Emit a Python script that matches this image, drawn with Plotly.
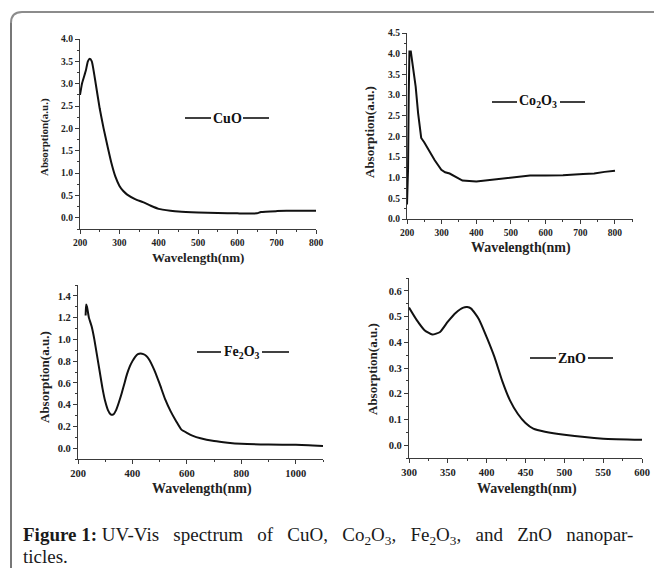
import plotly.graph_objects as go

# ---------------- data ----------------
cuo_wl = [200, 205, 210, 215, 220, 225, 230, 240, 250, 260, 270, 280, 290, 300, 310, 320, 340, 360, 380,
          400, 430, 450, 500, 550, 600, 650, 660, 700, 750, 800]
cuo_abs = [2.75, 3.0, 3.15, 3.3, 3.5, 3.56, 3.5, 3.0, 2.45, 2.0, 1.6, 1.22, 0.92, 0.72, 0.6, 0.52, 0.42,
           0.35, 0.27, 0.2, 0.16, 0.14, 0.12, 0.11, 0.1, 0.1, 0.13, 0.15, 0.16, 0.16]

co_wl = [200, 203, 205, 207, 211, 215, 225, 232, 241, 250, 265, 280, 299, 310, 323, 340, 352, 360, 400,
         450, 497, 530, 555, 600, 650, 708, 740, 770, 800]
co_abs = [0.35, 1.2, 3.0, 4.05, 4.05, 3.8, 3.2, 2.56, 1.96, 1.85, 1.64, 1.42, 1.19, 1.13, 1.1, 1.02, 0.95,
          0.93, 0.91, 0.95, 1.0, 1.02, 1.05, 1.05, 1.06, 1.09, 1.1, 1.14, 1.17]

fe_wl = [228, 230, 233, 240, 250, 260, 270, 280, 290, 300, 310, 320, 330, 340, 350, 360, 370, 380, 390,
         400, 410, 420, 430, 440, 450, 460, 480, 500, 520, 540, 560, 580, 600, 620, 650, 700, 750, 800,
         900, 1000, 1100]
fe_abs = [1.22, 1.32, 1.3, 1.2, 1.12, 1.0, 0.85, 0.7, 0.55, 0.43, 0.35, 0.31, 0.31, 0.35, 0.42, 0.5,
          0.59, 0.68, 0.75, 0.8, 0.84, 0.865, 0.87, 0.865, 0.85, 0.82, 0.72, 0.59, 0.45, 0.34, 0.25,
          0.17, 0.14, 0.115, 0.09, 0.065, 0.05, 0.04, 0.033, 0.03, 0.02]

zn_wl = [300, 310, 320, 330, 340, 350, 360, 370, 375, 380, 390, 400, 410, 420, 430, 440, 450, 460,
         475, 500, 550, 600]
zn_abs = [0.535, 0.486, 0.447, 0.43, 0.44, 0.48, 0.514, 0.535, 0.537, 0.531, 0.49, 0.42, 0.343,
          0.25, 0.174, 0.122, 0.086, 0.064, 0.052, 0.04, 0.025, 0.021]

labels = ["CuO", "Co<sub>2</sub>O<sub>3</sub>", "Fe<sub>2</sub>O<sub>3</sub>", "ZnO"]
x_title = "Wavelength(nm)"
y_title = "Absorption(a.u.)"
SP = "&nbsp;&nbsp;"
caption_1 = (f"<b>Figure 1:</b> UV-Vis{SP} spectrum{SP} of{SP} CuO,{SP} Co<sub>2</sub>O<sub>3</sub>,{SP} "
             f"Fe<sub>2</sub>O<sub>3</sub>,{SP} and{SP} ZnO{SP} nanopar-")
caption_2 = "ticles."

# ---------------- layout helpers ----------------
W, H = 654, 568
def px(x):
    return x / W
def py(y):
    return 1 - y / H

SERIF = "Liberation Serif"
AX_COLOR = "#3a3a3a"

series = [(cuo_wl, cuo_abs), (co_wl, co_abs), (fe_wl, fe_abs), (zn_wl, zn_abs)]
shapes_kind = ["spline", "linear", "spline", "spline"]
# pixel boxes: (x0, x1, ytop, ybottom)
boxes = [(80, 316, 39, 229), (407, 633, 33, 219), (78, 323, 285, 459), (409, 642, 278, 458)]
xranges = [[200, 800], [200, 852], [200, 1100], [300, 600]]
yranges = [[-0.25, 4.0], [0, 4.5], [-0.1, 1.5], [-0.05, 0.65]]
xdticks = [100, 100, 200, 50]
ydticks = [0.5, 0.5, 0.2, 0.1]
tick_sizes = [9.5, 9.5, 10.5, 10.5]
xtitle_sizes = [13, 14, 14, 14]
ytitle_sizes = [11, 13, 13, 13]
xtitle_pos = [(198, 257), (521, 248), (202, 489), (527, 489)]
ytitle_pos = [(45, 137), (369, 132), (45, 377), (372, 369)]
# label positions: (line-left x0, text centre, line-right x1, y)
lbl = [(185, 227, 269, 118), (492, 538, 585, 102), (197, 242, 289, 352), (530, 572, 613, 358)]
lbl_text_half = [(211, 243), (517, 560), (221, 262), (556, 588)]

fig = go.Figure()
layout_axes = {}
annotations = []
shapes = []

for i, ((xs, ys), (x0, x1, yt, yb)) in enumerate(zip(series, boxes)):
    n = i + 1
    xa = "xaxis" if n == 1 else f"xaxis{n}"
    ya = "yaxis" if n == 1 else f"yaxis{n}"
    line = dict(color="#111111", width=2, shape=shapes_kind[i])
    if shapes_kind[i] == "spline":
        line["smoothing"] = 0.5
    fig.add_trace(go.Scatter(x=xs, y=ys, mode="lines", line=line,
                             xaxis=f"x{'' if n == 1 else n}", yaxis=f"y{'' if n == 1 else n}",
                             showlegend=False, hoverinfo="skip"))
    common = dict(showgrid=False, zeroline=False, showline=True, linecolor=AX_COLOR, linewidth=1.3,
                  ticks="outside", ticklen=4, tickwidth=1.1, tickcolor=AX_COLOR, mirror=False,
                  automargin=False,
                  tickfont=dict(family=SERIF, size=tick_sizes[i], color="#222", weight="bold"))
    layout_axes[xa] = dict(common, domain=[px(x0), px(x1)], range=xranges[i], dtick=xdticks[i],
                           tick0=200 if i < 3 else 300,
                           anchor=f"y{'' if n == 1 else n}",
                           minor=dict(dtick=xdticks[i] / 2, ticks="outside", ticklen=2, tickcolor=AX_COLOR))
    layout_axes[ya] = dict(common, domain=[py(yb), py(yt)], range=yranges[i], dtick=ydticks[i], tick0=0,
                           tickformat=".1f", anchor=f"x{'' if n == 1 else n}",
                           minor=dict(dtick=ydticks[i] / 2, ticks="outside", ticklen=2, tickcolor=AX_COLOR))
    # axis titles
    tx, ty = xtitle_pos[i]
    annotations.append(dict(text=f"<b>{x_title}</b>", x=px(tx), y=py(ty), xref="paper", yref="paper",
                            showarrow=False, xanchor="center", yanchor="middle",
                            font=dict(family=SERIF, size=xtitle_sizes[i], color="#222")))
    tx, ty = ytitle_pos[i]
    annotations.append(dict(text=f"<b>{y_title}</b>", x=px(tx), y=py(ty), xref="paper", yref="paper",
                            showarrow=False, xanchor="center", yanchor="middle", textangle=-90,
                            font=dict(family=SERIF, size=ytitle_sizes[i], color="#222")))
    # in-plot labels
    lx0, lc, lx1, ly = lbl[i]
    tl, tr = lbl_text_half[i]
    annotations.append(dict(text=f"<b>{labels[i]}</b>", x=px(lc), y=py(ly), xref="paper", yref="paper",
                            showarrow=False, xanchor="center", yanchor="middle",
                            font=dict(family=SERIF, size=14, color="#111")))
    shapes.append(dict(type="line", xref="paper", yref="paper", x0=px(lx0), x1=px(tl), y0=py(ly), y1=py(ly),
                       line=dict(color="#111", width=1.6)))
    shapes.append(dict(type="line", xref="paper", yref="paper", x0=px(tr), x1=px(lx1), y0=py(ly), y1=py(ly),
                       line=dict(color="#111", width=1.6)))

# caption
annotations.append(dict(text=caption_1, x=px(21), y=py(536), xref="paper", yref="paper", showarrow=False,
                        xanchor="left", yanchor="middle", align="left",
                        font=dict(family=SERIF, size=19, color="#1a1a1a")))
annotations.append(dict(text=caption_2, x=px(21), y=py(556), xref="paper", yref="paper", showarrow=False,
                        xanchor="left", yanchor="middle", align="left",
                        font=dict(family=SERIF, size=19, color="#1a1a1a")))

# frame with rounded top-left corner
shapes.append(dict(type="path", xref="paper", yref="paper",
                   path=f"M {px(654)},{py(12)} L {px(22)},{py(12)} Q {px(11)},{py(12)} {px(11)},{py(23)}",
                   line=dict(color="#8c8c8c", width=2)))
shapes.append(dict(type="line", xref="paper", yref="paper", x0=px(11), x1=px(11), y0=py(23), y1=py(568),
                   line=dict(color="#555", width=1.6)))

fig.update_layout(width=W, height=H, margin=dict(l=0, r=0, t=0, b=0, autoexpand=False), paper_bgcolor="white",
                  plot_bgcolor="white", annotations=annotations, shapes=shapes, **layout_axes)

fig.write_html("out.html")
